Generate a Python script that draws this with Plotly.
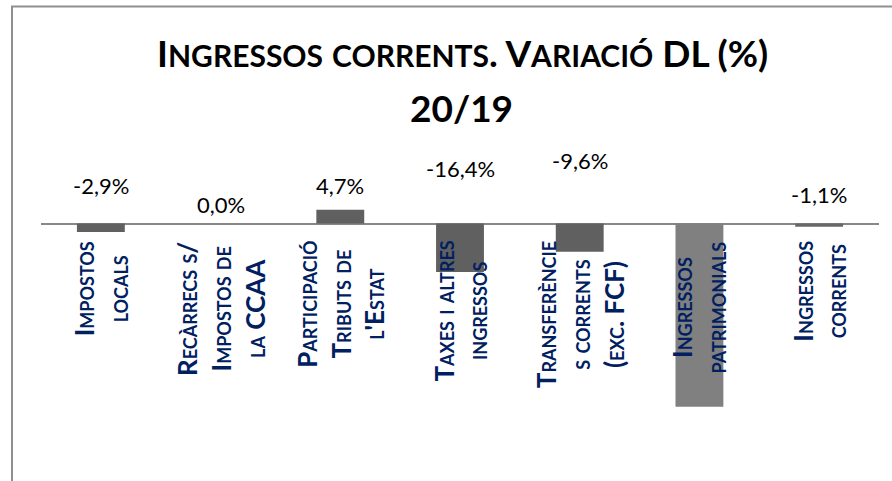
import plotly.graph_objects as go

# ---- data ----
categories = [
    "Impostos<br>locals",
    "Recàrrecs s/<br>Impostos de<br>la CCAA",
    "Participació<br>Tributs de<br>l'Estat",
    "Taxes i altres<br>ingressos",
    "Transferèncie<br>s corrents<br>(exc. FCF)",
    "Ingressos<br>patrimonials",
    "Ingressos<br>corrents",
]
values = [-2.9, 0.0, 4.7, -16.4, -9.6, -62.1, -1.1]
value_labels = ["-2,9%", "0,0%", "4,7%", "-16,4%", "-9,6%", "-62,1%", "-1,1%"]
title_line1 = "Ingressos corrents. Variació DL (%)"
title_line2 = "20/19"

# ---- styling (positions / colours, not data) ----
bar_colors = ["#606060", "#606060", "#606060", "#606060", "#606060", "#808080", "#686868"]
label_y = [13.0, 6.3, 13.0, 18.5, 21.4, 39.3, 9.8]   # manual data-label placement (axis units)

W, H = 892, 481
L, T = 41, 140
PW, PH = 879 - 41, 460 - 140
R = W - L - PW
B = H - T - PH

def px_x(px):
    return (px - L) / PW

def px_y(py):
    return (T + PH - py) / PH

def smallcaps(s, small):
    out, run = [], ""
    for ch in s:
        if ch.islower():
            run += ch
        else:
            if run:
                out.append(f"<span style='font-size:{small}px'>{run.upper()}</span>")
                run = ""
            out.append(ch)
    if run:
        out.append(f"<span style='font-size:{small}px'>{run.upper()}</span>")
    return "".join(out)

fig = go.Figure()
fig.add_trace(go.Bar(
    x=categories, y=values, width=0.4,
    marker=dict(color=bar_colors, line=dict(width=0)),
    hoverinfo="skip",
))

ann = []
# data labels
for c, lab, ly in zip(categories, value_labels, label_y):
    ann.append(dict(x=c, y=ly, xref="x", yref="y", text=lab, showarrow=False,
                    xanchor="center", yanchor="middle",
                    font=dict(family="Lato", size=22, color="#000000")))
# category labels (rotated)
for c in categories:
    ann.append(dict(x=c, y=px_y(239), xref="x", yref="paper", text=c, showarrow=False,
                    textangle=-90, xanchor="center", yanchor="top", align="center",
                    font=dict(family="Lato", size=26, color="#002060", weight="bold",
                              variant="small-caps")))
# title
ann.append(dict(x=px_x(462), y=px_y(52), xref="paper", yref="paper",
                text=smallcaps(title_line1, 30),
                showarrow=False, xanchor="center", yanchor="middle",
                font=dict(family="Lato", size=37, color="#000000", weight="bold")))
ann.append(dict(x=px_x(461), y=px_y(108), xref="paper", yref="paper", text=title_line2,
                showarrow=False, xanchor="center", yanchor="middle",
                font=dict(family="Lato", size=37, color="#000000", weight="bold")))

shapes = [dict(type="rect", xref="paper", yref="paper",
               x0=px_x(12), x1=px_x(930), y0=px_y(530), y1=px_y(6.5),
               line=dict(color="#8f8f8f", width=2), fillcolor="rgba(0,0,0,0)", layer="above")]

ymax = (223.5 - T) / 2.95
ymin = -(T + PH - 223.5) / 2.95

fig.update_layout(
    width=W, height=H,
    margin=dict(l=L, r=R, t=T, b=B),
    paper_bgcolor="white", plot_bgcolor="white",
    showlegend=False,
    annotations=ann, shapes=shapes,
    bargap=0.6,
    xaxis=dict(showticklabels=False, showgrid=False, showline=False, zeroline=False, ticks=""),
    yaxis=dict(range=[ymin, ymax], showticklabels=False, showgrid=False, showline=False,
               zeroline=True, zerolinecolor="#878787", zerolinewidth=2, ticks=""),
)
fig.write_html("out.html", config={"displayModeBar": False},
               post_script="document.body.style.margin='0';")
